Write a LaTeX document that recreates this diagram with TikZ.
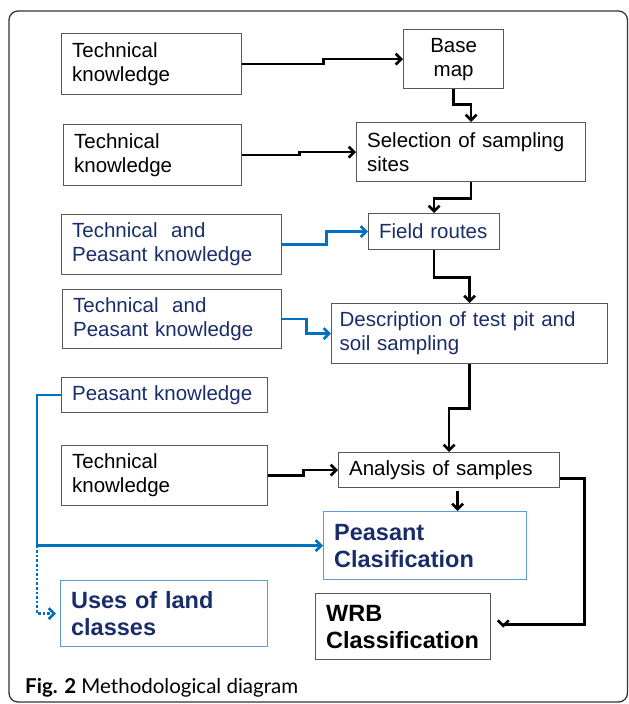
\documentclass[tikz,border=0pt]{standalone}
\usepackage{fontspec}
\setmainfont{Liberation Sans}
\newfontfamily\capfont{Lato}
\usetikzlibrary{arrows.meta,calc}
\definecolor{navy}{HTML}{1A2D6B}
\definecolor{lineblue}{HTML}{0070C0}
\definecolor{boxblue}{HTML}{5B9BD5}
\definecolor{boxgray}{HTML}{595959}
\definecolor{framegray}{HTML}{333333}
\begin{document}
\begin{tikzpicture}[x=1pt,y=-1pt,
  box/.style={draw=boxgray,line width=1.3pt,anchor=north west,inner xsep=10.5pt,inner ysep=0pt,align=left,font=\fontsize{20.5}{24}\selectfont},
  bbox/.style={box,draw=boxblue,text=navy,font=\fontsize{23.5}{27}\selectfont\bfseries},
  kbox/.style={box,font=\fontsize{23.5}{27}\selectfont\bfseries},
  conn/.style={line width=2.6pt,-{Straight Barb[length=5.5pt,width=11pt]}},
  bconn/.style={conn,lineblue}]
\useasboundingbox (0,0) rectangle (629,704);
\draw[framegray,line width=1.3pt,rounded corners=9pt] (9,11) rectangle (627.5,702);

\node[box,text width=159pt,minimum height=61pt] (tk1) at (61,33) {Technical\\knowledge};
\node[box,align=center,text width=79pt,minimum height=59pt] (base) at (403,29) {Base\\map};
\node[box,text width=157pt,minimum height=61pt] (tk2) at (63,124) {Technical\\knowledge};
\node[box,text width=208pt,minimum height=59pt] (sel) at (356,122) {Selection of sampling\\sites};
\node[box,text=navy,text width=199pt,minimum height=60pt] (tp1) at (61,214) {Technical\ \ and\\Peasant knowledge};
\node[box,text=navy,text width=110pt,minimum height=36pt] (field) at (368,213) {Field routes};
\node[box,text=navy,text width=198pt,minimum height=59pt] (tp2) at (62,289) {Technical\ \ and\\Peasant knowledge};
\node[box,text=navy,inner xsep=8pt,text width=260pt,minimum height=60pt] (desc) at (331,303) {Description of test pit and\\soil sampling};
\node[box,text=navy,text width=185pt,minimum height=35pt] (pk) at (61,377) {Peasant knowledge};
\node[box,text width=185pt,minimum height=60pt] (tk3) at (61,445) {Technical\\knowledge};
\node[box,text width=200pt,minimum height=35pt] (ana) at (338,452) {Analysis of samples};
\node[bbox,text width=182pt,minimum height=68pt] (pc) at (323,511) {Peasant\\Clasification};
\node[bbox,text width=186pt,minimum height=66pt] (uses) at (60,580) {Uses of land\\classes};
\node[kbox,text width=154pt,minimum height=66pt] (wrb) at (315,593) {WRB\\Classification};

\node[anchor=base west,inner sep=0pt,font=\capfont\fontsize{20.5}{24}\selectfont] (cap) at (25,693) {\textbf{Fig. 2} Methodological diagram};

% black connectors
\draw[conn] (tk1.east) -- ++(81,0) |- (base.west);
\draw[conn] (base.south) -- ++(0,15) -| (sel.north);
\draw[conn] (tk2.east) -- ++(57,0) |- (sel.west);
\draw[conn] (sel.south) -- ++(0,16) -| (field.north);
\draw[conn] (field.south) -- ++(0,27) -| (desc.north);
\draw[conn] (desc.south) -- ++(0,44) -| (ana.north);
\draw[conn] (tk3.east) -- ++(35,0) |- (ana.west);
\draw[conn] ([xshift=8.5pt,yshift=-3pt]ana.south) -- ([xshift=8.5pt]ana.south |- pc.north);
\coordinate (wrbin) at ([xshift=12pt,yshift=2pt]wrb.east);
\draw[conn] ([yshift=-8.5pt]ana.east) -- ++(24,0) |- (wrbin) -- ++(0,3);

% blue connectors
\draw[bconn] (tp1.east) -- ++(44,0) |- (field.west);
\draw[bconn] (tp2.east) -- ++(24,0) |- (desc.west);
\coordinate (jn) at (37,0 |- pc.west);
\draw[bconn] (pk.west) -- (pk.west -| jn) -- (jn) -- (pc.west);
\draw[bconn,dotted,shorten >=4pt] (jn) -- (jn |- uses.west) -- (uses.west);
\end{tikzpicture}
\end{document}
